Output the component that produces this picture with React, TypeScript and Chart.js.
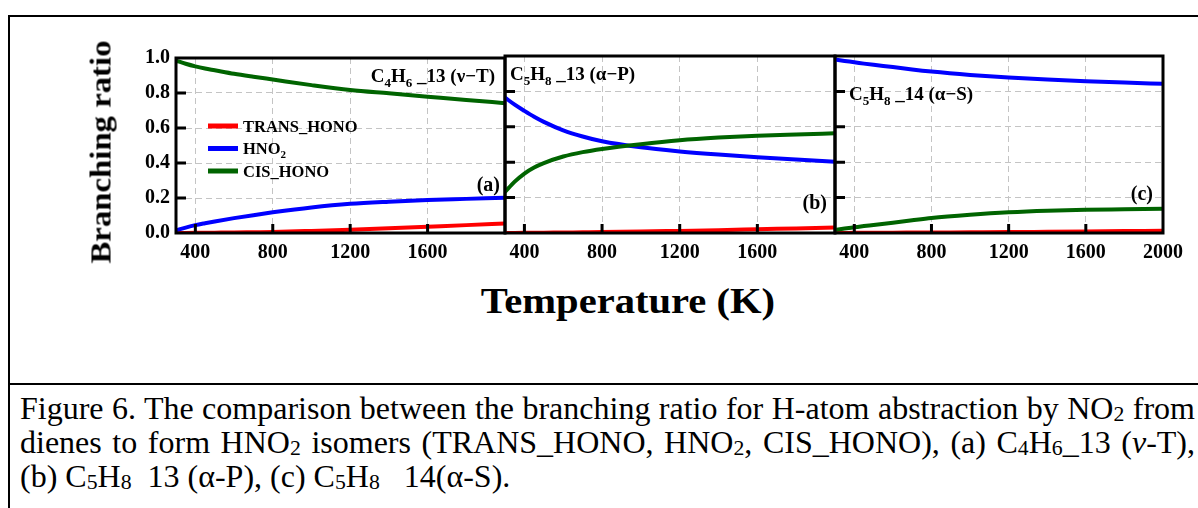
import React, { useEffect, useRef } from "react";
import { Chart, registerables } from "chart.js";

Chart.register(...registerables);

// ---------------- data ----------------
const temps = [300, 350, 400, 450, 500, 600, 700, 800, 1000, 1200, 1400, 1600, 1800, 2000];
const xTickValues = [400, 800, 1200, 1600, 2000];
const yTickValues = [0, 0.2, 0.4, 0.6, 0.8, 1.0];

const seriesNames = ["TRANS_HONO", "HNO₂", "CIS_HONO"];
const seriesColors = ["#ff0000", "#0000ff", "#006400"];

// (a) C4H6_13 (ν−T)
const transA = [0.0, 0.0005, 0.001, 0.0015, 0.002, 0.003, 0.0045, 0.006, 0.012, 0.019, 0.027, 0.036, 0.045, 0.055];
const hno2A = [0.015, 0.031, 0.045, 0.056, 0.066, 0.085, 0.102, 0.118, 0.146, 0.167, 0.179, 0.188, 0.195, 0.202];
const cisA = [0.985, 0.967, 0.952, 0.94, 0.93, 0.91, 0.893, 0.877, 0.845, 0.817, 0.798, 0.779, 0.76, 0.742];

// (b) C5H8_13 (α−P)
const transB = [0.0, 0.0005, 0.001, 0.0015, 0.002, 0.003, 0.004, 0.005, 0.008, 0.012, 0.016, 0.021, 0.026, 0.031];
const hno2B = [0.765, 0.725, 0.69, 0.657, 0.628, 0.58, 0.545, 0.518, 0.484, 0.461, 0.443, 0.428, 0.415, 0.403];
const cisB = [0.232, 0.29, 0.336, 0.37, 0.395, 0.432, 0.457, 0.475, 0.502, 0.524, 0.539, 0.55, 0.557, 0.563];

// (c) C5H8_14 (α−S)
const transC = [0.0, 0.0005, 0.001, 0.001, 0.001, 0.002, 0.0025, 0.003, 0.004, 0.005, 0.007, 0.009, 0.011, 0.013];
const hno2C = [0.98, 0.972, 0.965, 0.957, 0.95, 0.938, 0.924, 0.912, 0.893, 0.878, 0.867, 0.858, 0.85, 0.843];
const cisC = [0.017, 0.025, 0.032, 0.039, 0.045, 0.058, 0.072, 0.085, 0.103, 0.117, 0.126, 0.131, 0.134, 0.137];

type Seg = { t: string; sub?: boolean };

const nameA: Seg[] = [{ t: "C" }, { t: "4", sub: true }, { t: "H" }, { t: "6", sub: true }, { t: " _13 (ν−T)" }];
const nameB: Seg[] = [{ t: "C" }, { t: "5", sub: true }, { t: "H" }, { t: "8", sub: true }, { t: " _13 (α−P)" }];
const nameC: Seg[] = [{ t: "C" }, { t: "5", sub: true }, { t: "H" }, { t: "8", sub: true }, { t: " _14 (α−S)" }];
const legendSegs: Seg[][] = [[{ t: "TRANS_HONO" }], [{ t: "HNO" }, { t: "2", sub: true }], [{ t: "CIS_HONO" }]];

const SERIF = '"Liberation Serif", "Times New Roman", serif';

type PanelSpec = {
  series: number[][];
  name: Seg[];
  nameAlign: "left" | "right";
  nameDx: number;
  nameY: number;
  tag: string;
  tagDx: number;
  tagY: number;
  showYLabels: boolean;
  showLastX: boolean;
  legend: boolean;
  left: number;
  plotW: number;
};

const panels: PanelSpec[] = [
  { series: [transA, hno2A, cisA], name: nameA, nameAlign: "right", nameDx: -10, nameY: 24, tag: "(a)", tagDx: -5, tagY: 133, showYLabels: true, showLastX: false, legend: true, left: 176, plotW: 329 },
  { series: [transB, hno2B, cisB], name: nameB, nameAlign: "left", nameDx: 5, nameY: 24, tag: "(b)", tagDx: -8, tagY: 153, showYLabels: false, showLastX: false, legend: false, left: 505, plotW: 330 },
  { series: [transC, hno2C, cisC], name: nameC, nameAlign: "left", nameDx: 14, nameY: 44, tag: "(c)", tagDx: -10, tagY: 144, showYLabels: false, showLastX: true, legend: false, left: 835, plotW: 328 },
];

const PAD_L = 116;
const PAD_R = 30;
const PAD_T = 16;
const X_H = 37;
const CANVAS_TOP = 40;
const CANVAS_H = 230;

function drawSegs(ctx: CanvasRenderingContext2D, segs: Seg[], x: number, y: number, size: number, align: "left" | "right") {
  const fontFor = (s: Seg) => `bold ${s.sub ? Math.round(size * 0.68) : size}px ${SERIF}`;
  let total = 0;
  for (const s of segs) {
    ctx.font = fontFor(s);
    total += ctx.measureText(s.t).width;
  }
  let cx = align === "right" ? x - total : x;
  ctx.textAlign = "left";
  ctx.textBaseline = "alphabetic";
  ctx.fillStyle = "#000";
  for (const s of segs) {
    ctx.font = fontFor(s);
    ctx.fillText(s.t, cx, y + (s.sub ? size * 0.25 : 0));
    cx += ctx.measureText(s.t).width;
  }
}

function makePlugin(p: PanelSpec) {
  return {
    id: "panelDecor",
    afterDraw(chart: any) {
      const ctx: CanvasRenderingContext2D = chart.ctx;
      const { left, right, top, bottom } = chart.chartArea;
      const xs = chart.scales.x;
      const ys = chart.scales.y;
      ctx.save();
      ctx.strokeStyle = "#000";
      ctx.lineWidth = 3;
      ctx.setLineDash([]);
      ctx.strokeRect(left, top, right - left, bottom - top);
      ctx.beginPath();
      for (const v of xTickValues) {
        if (v >= 2000) continue;
        const px = xs.getPixelForValue(v);
        ctx.moveTo(px, bottom);
        ctx.lineTo(px, bottom - 9);
      }
      for (const v of yTickValues) {
        if (v <= 0 || v >= 1) continue;
        const py = ys.getPixelForValue(v);
        ctx.moveTo(left, py);
        ctx.lineTo(left + 10, py);
      }
      ctx.stroke();
      drawSegs(ctx, p.name, p.nameAlign === "right" ? right + p.nameDx : left + p.nameDx, top + p.nameY, 19, p.nameAlign);
      drawSegs(ctx, [{ t: p.tag }], right + p.tagDx, top + p.tagY, 20, "right");
      if (p.legend) {
        const rows = [68, 90.5, 113];
        for (let i = 0; i < seriesNames.length; i++) {
          const y = top + rows[i];
          ctx.strokeStyle = seriesColors[i];
          ctx.lineWidth = 5;
          ctx.beginPath();
          ctx.moveTo(left + 32, y);
          ctx.lineTo(left + 62, y);
          ctx.stroke();
          drawSegs(ctx, legendSegs[i], left + 67, y + 5.5, 16.5, "left");
        }
      }
      ctx.restore();
    },
  };
}

function Panel({ spec }: { spec: PanelSpec }) {
  const ref = useRef<HTMLCanvasElement | null>(null);
  useEffect(() => {
    if (!ref.current) return;
    const datasets = spec.series.map((vals, i) => ({
      label: seriesNames[i],
      data: temps.map((t, j) => ({ x: t, y: vals[j] })),
      borderColor: seriesColors[i],
      backgroundColor: seriesColors[i],
      borderWidth: 4,
      pointRadius: 0,
      fill: false,
      cubicInterpolationMode: "monotone" as const,
      order: 2 - i,
    }));
    const gridOpts = { color: "#c4c4c4", lineWidth: 1, drawTicks: false, borderDash: [6, 4] };
    const chart = new Chart(ref.current, {
      type: "line",
      data: { datasets },
      options: {
        animation: false,
        responsive: false,
        maintainAspectRatio: false,
        devicePixelRatio: 1,
        layout: { padding: { left: 0, right: PAD_R, top: PAD_T, bottom: 0 } },
        plugins: { legend: { display: false }, tooltip: { enabled: false }, title: { display: false } },
        scales: {
          x: {
            type: "linear",
            min: 300,
            max: 2000,
            afterBuildTicks: (axis: any) => {
              axis.ticks = xTickValues.map((v) => ({ value: v }));
            },
            afterFit: (s: any) => {
              s.height = X_H;
            },
            grid: gridOpts as any,
            border: { display: false, dash: [6, 4] } as any,
            ticks: {
              color: "#000",
              padding: 8,
              maxRotation: 0,
              autoSkip: false,
              font: { family: SERIF, size: 20, weight: "bold" },
              callback: (v: any) => (spec.showLastX || Number(v) !== 2000 ? String(v) : ""),
            },
          },
          y: {
            type: "linear",
            min: 0,
            max: 1,
            afterBuildTicks: (axis: any) => {
              axis.ticks = yTickValues.map((v) => ({ value: v }));
            },
            afterFit: (s: any) => {
              s.width = PAD_L;
            },
            grid: gridOpts as any,
            border: { display: false, dash: [6, 4] } as any,
            ticks: {
              display: spec.showYLabels,
              color: "#000",
              padding: 6,
              font: { family: SERIF, size: 20, weight: "bold" },
              callback: (v: any) => Number(v).toFixed(1),
            },
          },
        },
      },
      plugins: [makePlugin(spec)],
    } as any);
    return () => chart.destroy();
  }, [spec]);
  const w = spec.plotW + PAD_L + PAD_R;
  return (
    <canvas
      ref={ref}
      width={w}
      height={CANVAS_H}
      style={{ position: "absolute", left: spec.left - PAD_L, top: CANVAS_TOP, width: w, height: CANVAS_H }}
    />
  );
}

const subStyle: React.CSSProperties = { fontSize: "0.68em", verticalAlign: "-0.08em", lineHeight: 0 };
const lineStyle: React.CSSProperties = { textAlign: "justify", textAlignLast: "justify", whiteSpace: "nowrap" };

export default function App() {
  return (
    <div style={{ position: "fixed", left: 0, top: 0, width: 1198, height: 508, overflow: "hidden", background: "#fff" }}>
      <div style={{ position: "absolute", left: 8, top: 15, width: 1300, height: 600, borderLeft: "2px solid #000", borderTop: "2px solid #000" }} />
      <div style={{ position: "absolute", left: 8, top: 383, width: 1300, height: 0, borderTop: "2px solid #000" }} />
      {panels.map((p, i) => (
        <Panel key={i} spec={p} />
      ))}
      <div
        style={{
          position: "absolute",
          left: 101,
          top: 151.5,
          transform: "translate(-50%, -50%) rotate(-90deg) scaleX(1.13)",
          font: `bold 29px ${SERIF}`,
          lineHeight: 1,
          whiteSpace: "nowrap",
          color: "#000",
        }}
      >
        Branching ratio
      </div>
      <div
        style={{
          position: "absolute",
          left: 627.5,
          top: 301,
          transform: "translate(-50%, -50%) scaleX(1.16)",
          font: `bold 35px ${SERIF}`,
          lineHeight: 1,
          whiteSpace: "nowrap",
          color: "#000",
        }}
      >
        Temperature (K)
      </div>
      <div style={{ position: "absolute", left: 20, top: 391, width: 1175, font: `32px ${SERIF}`, lineHeight: "34px", color: "#000" }}>
        <div style={lineStyle}>
          Figure 6. The comparison between the branching ratio for H-atom abstraction by NO<span style={subStyle}>2</span> from
        </div>
        <div style={lineStyle}>
          dienes to form HNO<span style={subStyle}>2</span> isomers (TRANS_HONO, HNO<span style={subStyle}>2</span>, CIS_HONO), (a) C
          <span style={subStyle}>4</span>H<span style={subStyle}>6</span>_13 (<i>ν</i>-T),
        </div>
        <div style={{ textAlign: "left", whiteSpace: "pre" }}>
          (b) C<span style={subStyle}>5</span>H<span style={subStyle}>8</span>{"  "}13 (α-P), (c) C<span style={subStyle}>5</span>H
          <span style={subStyle}>8</span>{"   "}14(α-S).
        </div>
      </div>
    </div>
  );
}
